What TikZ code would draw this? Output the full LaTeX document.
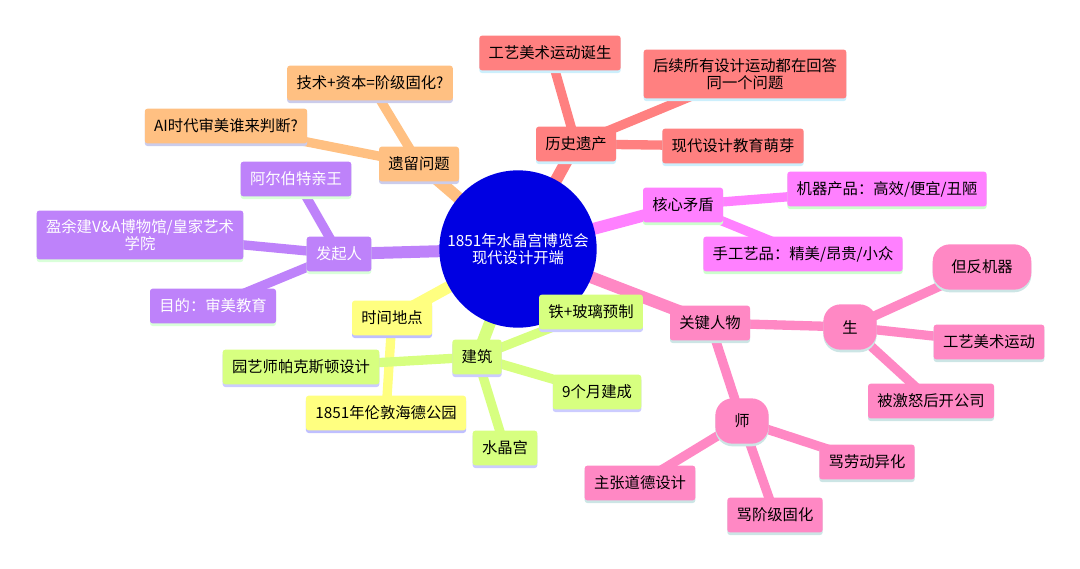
\documentclass[tikz,border=0pt]{standalone}
\usepackage{fontspec}
\setmainfont{Noto Sans CJK SC}
\usetikzlibrary{backgrounds,shadows}
\definecolor{hub}{RGB}{0,0,226}
\definecolor{orfill}{RGB}{255,192,130}
\definecolor{pufill}{RGB}{190,130,250}
\definecolor{yefill}{RGB}{255,255,128}
\definecolor{lifill}{RGB}{215,255,128}
\definecolor{refill}{RGB}{255,128,128}
\definecolor{mafill}{RGB}{255,128,255}
\definecolor{pifill}{RGB}{255,136,196}

\begin{document}
\begin{tikzpicture}[x=0.75pt,y=-0.75pt,font=\fontsize{11.5}{13}\selectfont,
 box/.style={rounded corners=2pt,align=center,minimum height=26pt,inner xsep=7pt,inner ysep=6.5pt},
 orbox/.style={box,fill=orfill,general shadow={fill=cyan!25!blue!20,shadow yshift=-2pt}},
 pubox/.style={box,fill=pufill,text=white,general shadow={fill=green!15,shadow yshift=-2pt}},
 yebox/.style={box,fill=yefill,general shadow={fill=blue!25,shadow yshift=-2pt}},
 libox/.style={box,fill=lifill,general shadow={fill=blue!20,shadow yshift=-2pt}},
 rebox/.style={box,fill=refill,general shadow={fill=cyan!20,shadow yshift=-2pt}},
 mabox/.style={box,fill=mafill,general shadow={fill=green!20,shadow yshift=-2pt}},
 pibox/.style={box,fill=pifill,general shadow={fill=teal!20,shadow yshift=-2pt}},
 blob/.style={pibox,rounded corners=13pt,minimum height=34pt,minimum width=40pt},
 link/.style={line width=7pt},
 trunk/.style={line width=9pt}]
\useasboundingbox (0,0) rectangle (1080,568);
\node[circle,fill=hub,text=white,minimum size=118pt,align=center,inner sep=0pt] (hub) at (518,249) {1851年水晶宫博览会\\现代设计开端};
% legacy questions
\node[orbox] (legacy) at (419,164) {遗留问题};
\node[orbox] (classq) at (370,83) {技术+资本=阶级固化?};
\node[orbox] (aiq) at (226,126) {AI时代审美谁来判断?};
% founders
\node[pubox] (founder) at (339,254) {发起人};
\node[pubox] (albert) at (296,179) {阿尔伯特亲王};
\node[pubox] (surplus) at (140,235) {盈余建V\&A博物馆/皇家艺术\\学院};
\node[pubox] (aim) at (213,306) {目的：审美教育};
% time and place
\node[yebox] (when) at (392,318) {时间地点};
\node[yebox] (hyde) at (386,413) {1851年伦敦海德公园};
% building
\node[libox] (arch) at (477,357) {建筑};
\node[libox] (paxton) at (301,367) {园艺师帕克斯顿设计};
\node[libox] (palace) at (505,448) {水晶宫};
\node[libox] (iron) at (591,312) {铁+玻璃预制};
\node[libox] (months) at (597,392) {9个月建成};
% history
\node[rebox] (history) at (576,144) {历史遗产};
\node[rebox] (artsborn) at (550,53) {工艺美术运动诞生};
\node[rebox] (answer) at (745,74) {后续所有设计运动都在回答\\同一个问题};
\node[rebox] (school) at (733,146) {现代设计教育萌芽};
% conflict
\node[mabox] (conflict) at (683,205) {核心矛盾};
\node[mabox] (machine) at (887,189) {机器产品：高效/便宜/丑陋};
\node[mabox] (craft) at (803,254) {手工艺品：精美/昂贵/小众};
% people
\node[pibox] (people) at (710,323) {关键人物};
\node[blob] (student) at (850,327) {生};
\node[blob,minimum width=74pt] (antimach) at (982,267) {但反机器};
\node[pibox] (arts) at (989,342) {工艺美术运动};
\node[pibox] (firm) at (931,401) {被激怒后开公司};
\node[blob] (master) at (742,421) {师};
\node[pibox] (alien) at (867,462) {骂劳动异化};
\node[pibox] (moral) at (640,483) {主张道德设计};
\node[pibox] (classfix) at (775,515) {骂阶级固化};
\begin{scope}[on background layer]
\draw[trunk,orfill] (hub.center) -- (legacy.center);
\draw[link,orfill] (legacy.center) -- (classq.center);
\draw[link,orfill] (legacy.center) -- (aiq.center);
\draw[trunk,pufill] (hub.center) -- (founder.center);
\draw[link,pufill] (founder.center) -- (albert.center);
\draw[link,pufill] (founder.center) -- (surplus.center);
\draw[link,pufill] (founder.center) -- (aim.center);
\draw[trunk,yefill] (hub.center) -- (when.center);
\draw[link,yefill] (when.center) -- (hyde.center);
\draw[trunk,lifill] (hub.center) -- (arch.center);
\draw[link,lifill] (arch.center) -- (paxton.center);
\draw[link,lifill] (arch.center) -- (palace.center);
\draw[link,lifill] (arch.center) -- (iron.center);
\draw[link,lifill] (arch.center) -- (months.center);
\draw[trunk,refill] (hub.center) -- (history.center);
\draw[link,refill] (history.center) -- (artsborn.center);
\draw[link,refill] (history.center) -- (answer.center);
\draw[link,refill] (history.center) -- (school.center);
\draw[trunk,mafill] (hub.center) -- (conflict.center);
\draw[link,mafill] (conflict.center) -- (machine.center);
\draw[link,mafill] (conflict.center) -- (craft.center);
\draw[trunk,pifill] (hub.center) -- (people.center);
\draw[link,pifill] (people.center) -- (student.center);
\draw[link,pifill] (people.center) -- (master.center);
\draw[link,pifill] (student.center) -- (antimach.center);
\draw[link,pifill] (student.center) -- (arts.center);
\draw[link,pifill] (student.center) -- (firm.center);
\draw[link,pifill] (master.center) -- (alien.center);
\draw[link,pifill] (master.center) -- (moral.center);
\draw[link,pifill] (master.center) -- (classfix.center);
\end{scope}
\end{tikzpicture}
\end{document}
